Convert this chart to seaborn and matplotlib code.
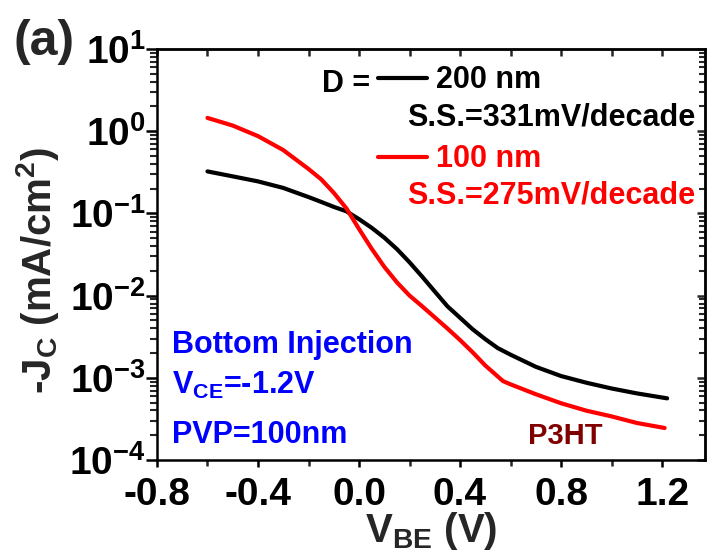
import matplotlib
matplotlib.use("Agg")
import matplotlib.pyplot as plt
from matplotlib.ticker import MultipleLocator, LogLocator, NullFormatter, NullLocator
import seaborn as sns
import pandas as pd

# values
vbe_200 = [-0.6, -0.5, -0.4, -0.3, -0.2, -0.15, -0.1, -0.05, 0.0, 0.05, 0.1,
           0.15, 0.2, 0.25, 0.3, 0.35, 0.4, 0.45, 0.5, 0.55, 0.6, 0.7, 0.8,
           0.9, 1.0, 1.1, 1.22]
jc_200 = [0.324, 0.282, 0.245, 0.204, 0.158, 0.138, 0.120, 0.106, 0.0851,
          0.0668, 0.0507, 0.0368, 0.0254, 0.0170, 0.0112, 0.00741, 0.00537,
          0.00389, 0.00295, 0.00229, 0.00191, 0.00136, 0.00105, 0.000871,
          0.000741, 0.000646, 0.000562]

vbe_100 = [-0.6, -0.5, -0.4, -0.3, -0.2, -0.15, -0.1, -0.05, 0.0, 0.05, 0.1,
           0.15, 0.2, 0.25, 0.3, 0.35, 0.4, 0.45, 0.5, 0.57, 0.6, 0.7, 0.8,
           0.9, 1.0, 1.1, 1.21]
jc_100 = [1.45, 1.17, 0.871, 0.589, 0.347, 0.260, 0.178, 0.115, 0.0646,
          0.0372, 0.0224, 0.0145, 0.0100, 0.00741, 0.00543, 0.00398, 0.00288,
          0.00204, 0.00141, 0.000912, 0.000832, 0.000631, 0.000490, 0.000398,
          0.000339, 0.000282, 0.000245]

labels = ["200 nm", "100 nm"]
ss_texts = ["S.S.=331mV/decade", "S.S.=275mV/decade"]
colours = {"200 nm": "black", "100 nm": "red"}

df = pd.concat([
    pd.DataFrame({"VBE": vbe_200, "JC": jc_200, "D": labels[0]}),
    pd.DataFrame({"VBE": vbe_100, "JC": jc_100, "D": labels[1]}),
])

sns.set_style("ticks")
plt.rcParams["font.family"] = ["Liberation Sans", "DejaVu Sans"]
plt.rcParams["font.weight"] = "bold"
plt.rcParams["axes.unicode_minus"] = False
plt.rcParams["mathtext.fontset"] = "custom"
plt.rcParams["mathtext.rm"] = "Liberation Sans:bold"
plt.rcParams["mathtext.bf"] = "Liberation Sans:bold"
plt.rcParams["mathtext.it"] = "Liberation Sans:bold"
plt.rcParams["mathtext.default"] = "rm"

fig = plt.figure(figsize=(7.09, 5.56), dpi=100)
ax = fig.add_axes([0.2214, 0.1727, 0.7730, 0.7392])

sns.lineplot(data=df, x="VBE", y="JC", hue="D", palette=colours,
             estimator=None, sort=False, lw=3, legend=False, ax=ax)
for ln in ax.get_lines():
    ln.set_solid_capstyle("round")
    ln.set_solid_joinstyle("round")

ax.set_yscale("log")
ax.set_xlim(-0.8, 1.37)
ax.set_ylim(1e-4, 1e1)
ax.xaxis.set_major_locator(MultipleLocator(0.4))
ax.xaxis.set_minor_locator(MultipleLocator(0.2))
ax.yaxis.set_major_locator(LogLocator(base=10, numticks=10))
ax.yaxis.set_minor_locator(LogLocator(base=10, subs=range(2, 10), numticks=10))
ax.yaxis.set_minor_formatter(NullFormatter())

for s in ax.spines.values():
    s.set_linewidth(1.8)
    s.set_color("black")

ax.tick_params(axis="x", which="major", direction="out", length=5, width=1.8,
               labelsize=28, pad=7, colors="black")
ax.tick_params(axis="x", which="minor", direction="out", length=4, width=1.8)
ax.tick_params(axis="y", which="major", direction="out", length=8, width=1.8,
               labelsize=28, pad=0, colors="black")
ax.tick_params(axis="y", which="minor", direction="out", length=5, width=1.5)

# mirror ticks pointing inwards on top and right
top = ax.secondary_xaxis("top")
top.xaxis.set_major_locator(MultipleLocator(0.2))
top.xaxis.set_minor_locator(NullLocator())
top.tick_params(direction="in", length=5, width=1.8, labeltop=False)
top.spines["top"].set_linewidth(1.8)
right = ax.secondary_yaxis("right")
right.yaxis.set_major_locator(LogLocator(base=10, numticks=10))
right.yaxis.set_minor_locator(LogLocator(base=10, subs=range(2, 10), numticks=10))
right.tick_params(which="major", direction="in", length=6, width=1.8, labelright=False)
right.tick_params(which="minor", direction="in", length=4, width=1.5, labelright=False)
right.spines["right"].set_linewidth(1.8)

ax.set_xlabel(r"V$_{\mathregular{BE}}$ (V)", fontsize=29, fontweight="bold")
ax.set_ylabel(r"-J$_{\mathregular{C}}$ (mA/cm$^{\mathregular{2}}$)", fontsize=29,
              fontweight="bold")
ax.xaxis.set_label_coords(0.5, -0.121)
ax.yaxis.set_label_coords(-0.175, 0.46)

# legend
handles = ax.get_lines()[:2]
leg = ax.legend(handles, labels, loc="upper left", bbox_to_anchor=(0.403, 0.96),
                frameon=False, fontsize=22, handlelength=1.6, handletextpad=0.3,
                labelspacing=1.6, borderpad=0, borderaxespad=0)
leg.get_texts()[0].set_color("black")
leg.get_texts()[1].set_color("red")
for t in leg.get_texts():
    t.set_fontweight("bold")

ax.text(0.301, 0.895, "D =", transform=ax.transAxes, fontsize=22,
        fontweight="bold", color="black", va="baseline")
ax.text(0.456, 0.815, ss_texts[0], transform=ax.transAxes, fontsize=22,
        fontweight="bold", color="black", va="baseline")
ax.text(0.456, 0.625, ss_texts[1], transform=ax.transAxes, fontsize=22,
        fontweight="bold", color="red", va="baseline")

ax.text(0.027, 0.260, "Bottom Injection", transform=ax.transAxes, fontsize=22,
        fontweight="bold", color="#0000FF", va="baseline")
ax.text(0.027, 0.160, r"V$_{\mathregular{CE}}$=-1.2V", transform=ax.transAxes,
        fontsize=22, fontweight="bold", color="#0000FF", va="baseline")
ax.text(0.027, 0.041, "PVP=100nm", transform=ax.transAxes, fontsize=22,
        fontweight="bold", color="#0000FF", va="baseline")
ax.text(0.677, 0.040, "P3HT", transform=ax.transAxes, fontsize=21,
        fontweight="bold", color="#800000", va="baseline")

fig.text(14 / 709, 1 - 42 / 556, "(a)", fontsize=36, fontweight="bold",
         va="center", ha="left")

fig.savefig("out.png", dpi=100)
